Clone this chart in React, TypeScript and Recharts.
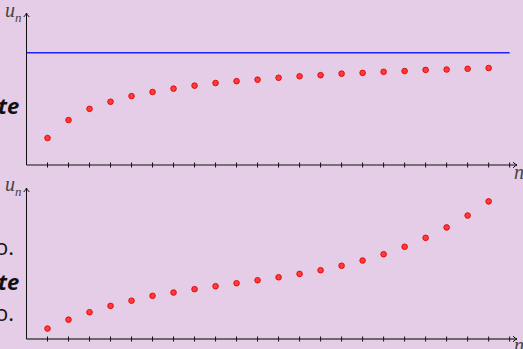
import { ScatterChart, Scatter, XAxis, YAxis, ReferenceLine, ReferenceDot } from "recharts";

// n = 1..22 (one dot per tick)
const nValues = [1, 2, 3, 4, 5, 6, 7, 8, 9, 10, 11, 12, 13, 14, 15, 16, 17, 18, 19, 20, 21, 22];
const xTicks = [1, 2, 3, 4, 5, 6, 7, 8, 9, 10, 11, 12, 13, 14, 15, 16, 17, 18, 19, 20, 21, 22, 23];

// top panel: increasing, bounded by the blue line
const topValues = [0.72, 1.2, 1.5, 1.69, 1.84, 1.95, 2.04, 2.12, 2.19, 2.24, 2.28, 2.33, 2.37, 2.4, 2.44, 2.46, 2.49, 2.51, 2.54, 2.55, 2.57, 2.59];
const limitValue = 3;
const limitEnd = 23;

// bottom panel: increasing, not bounded
const bottomValues = [0.28, 0.52, 0.72, 0.89, 1.03, 1.16, 1.25, 1.34, 1.42, 1.5, 1.58, 1.66, 1.75, 1.85, 1.97, 2.11, 2.28, 2.48, 2.72, 3.0, 3.32, 3.7];

const X_MAX = 23.35;
const Y_MAX = 4.06;

const topData = nValues.map((n, i) => ({ n, u: topValues[i] }));
const bottomData = nValues.map((n, i) => ({ n, u: bottomValues[i] }));

const XTick = (props: any) => {
  const { x, y } = props;
  return <line x1={x} x2={x} y1={y - 2.5} y2={y + 2.5} stroke="#111" strokeWidth={1} />;
};

const RedDot = (props: any) => (
  <circle cx={props.cx} cy={props.cy} r={2.8} fill="#ff3b3b" stroke="#e00000" strokeWidth={0.9} />
);

const ArrowRight = (props: any) => {
  const { cx, cy } = props;
  return (
    <path
      d={`M${cx - 4},${cy - 2.8} Q${cx - 1.5},${cy - 0.4} ${cx},${cy} Q${cx - 1.5},${cy + 0.4} ${cx - 4},${cy + 2.8}`}
      fill="none"
      stroke="#111"
      strokeWidth={1}
    />
  );
};

const ArrowUp = (props: any) => {
  const { cx, cy } = props;
  return (
    <path
      d={`M${cx - 2.8},${cy + 4} Q${cx - 0.4},${cy + 1.5} ${cx},${cy} Q${cx + 0.4},${cy + 1.5} ${cx + 2.8},${cy + 4}`}
      fill="none"
      stroke="#111"
      strokeWidth={1}
    />
  );
};

const Panel = ({ data, showLimit, xAxisColor, xAxisWidth, top }: any) => (
  <ScatterChart width={523} height={175} margin={{ top, right: 6, bottom: 0, left: 0 }}>
    <XAxis
      type="number"
      dataKey="n"
      domain={[0, X_MAX]}
      ticks={xTicks}
      allowDataOverflow
      height={10}
      tickSize={0}
      tickMargin={0}
      tickLine={false}
      tick={<XTick />}
      axisLine={{ stroke: xAxisColor, strokeWidth: xAxisWidth }}
    />
    <YAxis
      type="number"
      dataKey="u"
      domain={[0, Y_MAX]}
      allowDataOverflow
      width={26.5}
      tick={false}
      tickLine={false}
      axisLine={{ stroke: "#111" }}
    />
    {showLimit && (
      <ReferenceLine
        segment={[
          { x: 0, y: limitValue },
          { x: limitEnd, y: limitValue },
        ]}
        stroke="#1f1fff"
        strokeWidth={1.6}
      />
    )}
    <Scatter data={data} shape={<RedDot />} isAnimationActive={false} />
    <ReferenceDot x={X_MAX} y={0} shape={<ArrowRight />} />
    <ReferenceDot x={0} y={Y_MAX} shape={<ArrowUp />} />
  </ScatterChart>
);

const mathLabel: any = {
  position: "absolute",
  fontFamily: "'Liberation Serif', serif",
  fontStyle: "italic",
  color: "#444",
  fontSize: 20,
  lineHeight: 1,
};

const sideText: any = {
  position: "absolute",
  fontFamily: "'Open Sans', sans-serif",
  color: "#111",
  fontSize: 22,
  lineHeight: 1,
  whiteSpace: "nowrap",
};

export default function App() {
  return (
    <div
      style={{
        position: "absolute",
        left: 0,
        top: 0,
        width: 523,
        height: 349,
        background: "#e6cde7",
        overflow: "hidden",
      }}
    >
      <div style={{ position: "absolute", left: 0, top: 0 }}>
        <Panel data={topData} showLimit xAxisColor="#111" xAxisWidth={1} top={13} />
      </div>
      <div style={{ position: "absolute", left: 0, top: 174 }}>
        <Panel data={bottomData} showLimit={false} xAxisColor="#6a6a6a" xAxisWidth={2} top={14} />
      </div>

      <span style={{ ...mathLabel, left: 5, top: 0 }}>
        u<sub style={{ fontSize: 13 }}>n</sub>
      </span>
      <span style={{ ...mathLabel, left: 5, top: 174 }}>
        u<sub style={{ fontSize: 13 }}>n</sub>
      </span>
      <span style={{ ...mathLabel, left: 514, top: 162 }}>n</span>
      <span style={{ ...mathLabel, left: 514, top: 335 }}>n</span>

      <span style={{ ...sideText, left: -2, top: 94, fontWeight: 700, fontStyle: "italic" }}>te</span>
      <span style={{ ...sideText, left: -5, top: 235 }}>o.</span>
      <span style={{ ...sideText, left: -2, top: 270, fontWeight: 700, fontStyle: "italic" }}>te</span>
      <span style={{ ...sideText, left: -5, top: 301 }}>o.</span>
    </div>
  );
}
